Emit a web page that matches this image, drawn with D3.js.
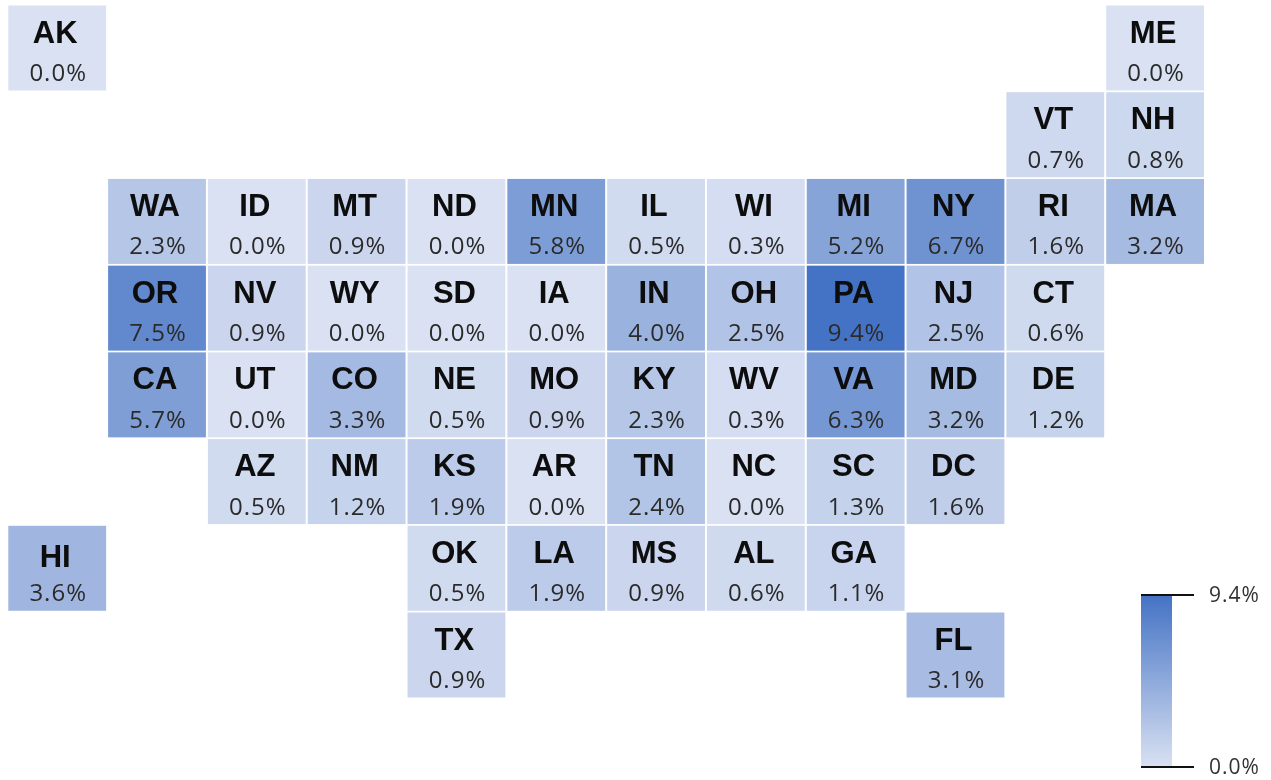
<!DOCTYPE html>
<html>
<head>
<meta charset="utf-8">
<script src="https://cdn.jsdelivr.net/npm/d3@7"></script>
<style>
html, body { margin: 0; padding: 0; background: #fff; }
svg { display: block; }
.state { font-family: "Liberation Sans", sans-serif; font-weight: bold; font-size: 31px; fill: #0a0a0a; }
.pct { font-family: "Open Sans", sans-serif; font-size: 24px; letter-spacing: 1px; fill: #2b2b2b; }
.legend-label { font-family: "Open Sans", sans-serif; font-size: 21px; letter-spacing: 1px; fill: #333; }
</style>
</head>
<body>
<script>
// tile map layout, one string per row, "--" = empty tile
var tileRows = [
    "AK -- -- -- -- -- -- -- -- -- -- ME",
    "-- -- -- -- -- -- -- -- -- -- VT NH",
    "-- WA ID MT ND MN IL WI MI NY RI MA",
    "-- OR NV WY SD IA IN OH PA NJ CT --",
    "-- CA UT CO NE MO KY WV VA MD DE --",
    "-- -- AZ NM KS AR TN NC SC DC -- --",
    "HI -- -- -- OK LA MS AL GA -- -- --",
    "-- -- -- -- TX -- -- -- -- FL -- --"
];

var states = ["AK", "ME", "VT", "NH", "WA", "ID", "MT", "ND", "MN", "IL", "WI", "MI", "NY", "RI", "MA",
    "OR", "NV", "WY", "SD", "IA", "IN", "OH", "PA", "NJ", "CT",
    "CA", "UT", "CO", "NE", "MO", "KY", "WV", "VA", "MD", "DE",
    "AZ", "NM", "KS", "AR", "TN", "NC", "SC", "DC",
    "HI", "OK", "LA", "MS", "AL", "GA", "TX", "FL"];

var shares = [0.0, 0.0, 0.7, 0.8, 2.3, 0.0, 0.9, 0.0, 5.8, 0.5, 0.3, 5.2, 6.7, 1.6, 3.2,
    7.5, 0.9, 0.0, 0.0, 0.0, 4.0, 2.5, 9.4, 2.5, 0.6,
    5.7, 0.0, 3.3, 0.5, 0.9, 2.3, 0.3, 6.3, 3.2, 1.2,
    0.5, 1.2, 1.9, 0.0, 2.4, 0.0, 1.3, 1.6,
    3.6, 0.5, 1.9, 0.9, 0.6, 1.1, 0.9, 3.1];

var legendTicks = [0.0, 9.4];

let width = 1271;
let height = 780;

let svg = d3.select("body").append("svg")
    .attr("width", width)
    .attr("height", height);

// the reference is a slightly soft screenshot
svg.append("defs").append("filter")
    .attr("id", "soft")
    .append("feGaussianBlur")
    .attr("stdDeviation", 0.45);

// look up the grid position of each state
var tiles = [];
tileRows.forEach(function(row, r) {
    row.split(" ").forEach(function(code, c) {
        if (code !== "--") {
            tiles.push({state: code, row: r, col: c, value: shares[states.indexOf(code)]});
        }
    });
});

let xScale = d3.scaleBand()
    .domain(d3.range(12))
    .range([8.3, 1204])
    .paddingInner(0.02);

let yScale = d3.scaleBand()
    .domain(d3.range(tileRows.length))
    .range([5.5, 697.5])
    .paddingInner(0.02);

let color = d3.scaleLinear()
    .domain([0, 9.4])
    .range(["#d9e1f2", "#4472c4"]);

let fmt = d => d.toFixed(1) + "%";

let cells = svg.selectAll(".tile")
    .data(tiles)
    .join("g")
    .attr("class", "tile")
    .attr("transform", d => `translate(${xScale(d.col)},${yScale(d.row)})`);

cells.append("rect")
    .attr("width", xScale.bandwidth())
    .attr("height", yScale.bandwidth())
    .attr("fill", d => color(d.value));

cells.append("text")
    .attr("class", "state")
    .attr("x", xScale.bandwidth() / 2 - 2)
    .attr("y", 37)
    .attr("text-anchor", "middle")
    .attr("filter", "url(#soft)")
    .text(d => d.state);

cells.append("text")
    .attr("class", "pct")
    .attr("x", xScale.bandwidth() / 2 + 1)
    .attr("y", 75.5)
    .attr("text-anchor", "middle")
    .attr("filter", "url(#soft)")
    .text(d => fmt(d.value));

// HI sits a bit lower in its tile in the reference
cells.filter(d => d.state === "HI").select(".state").attr("y", 41);
cells.filter(d => d.state === "HI").select(".pct").attr("y", 75);

// legend
let legendY = d3.scaleLinear()
    .domain(d3.extent(legendTicks))
    .range([767, 595]);

let grad = svg.select("defs").append("linearGradient")
    .attr("id", "legendGrad")
    .attr("x1", 0).attr("y1", 1).attr("x2", 0).attr("y2", 0);

grad.selectAll("stop")
    .data(legendTicks)
    .join("stop")
    .attr("offset", (d, i) => i)
    .attr("stop-color", d => color(d));

svg.append("rect")
    .attr("x", 1141)
    .attr("y", legendY(9.4))
    .attr("width", 31)
    .attr("height", legendY(0) - legendY(9.4))
    .attr("fill", "url(#legendGrad)");

svg.selectAll(".legend-tick")
    .data(legendTicks)
    .join("line")
    .attr("class", "legend-tick")
    .attr("x1", 1141)
    .attr("x2", 1194)
    .attr("y1", d => legendY(d))
    .attr("y2", d => legendY(d))
    .attr("stroke", "#111")
    .attr("stroke-width", 2);

svg.selectAll(".legend-label")
    .data(legendTicks)
    .join("text")
    .attr("class", "legend-label")
    .attr("x", 1209)
    .attr("y", d => legendY(d) + 7)
    .attr("filter", "url(#soft)")
    .text(fmt);
</script>
</body>
</html>
